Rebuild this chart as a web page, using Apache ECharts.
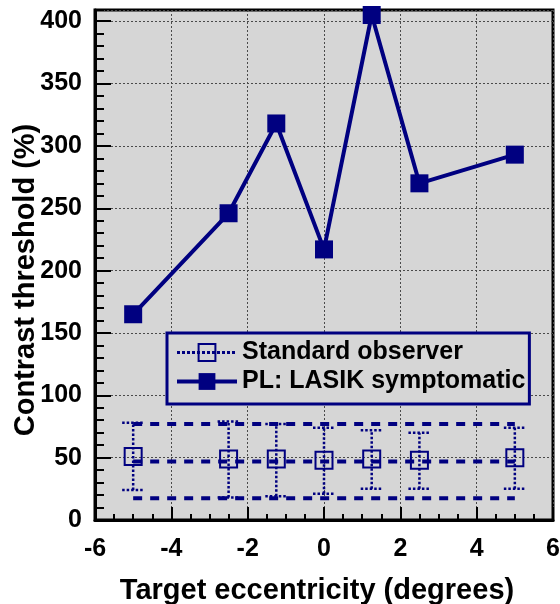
<!DOCTYPE html>
<html>
<head>
<meta charset="utf-8">
<script src="https://cdn.jsdelivr.net/npm/echarts@6/dist/echarts.min.js"></script>
<style>
  html, body { margin: 0; padding: 0; background: #ffffff; }
  #chart { width: 560px; height: 604px; }
</style>
</head>
<body>
<div id="chart"></div>
<script>
// Target eccentricities (degrees) at which thresholds were measured
const eccentricity = [-5, -2.5, -1.25, 0, 1.25, 2.5, 5];

// PL: LASIK symptomatic contrast thresholds (%)
const lasikThreshold = [165, 246, 318, 217, 405, 270, 293];

// Standard observer: mean and error-bar limits (%)
const standardMean = [51, 49, 49, 48, 49, 48, 50];
const standardUpper = [78, 79, 77, 74, 72, 70, 74];
const standardLower = [24, 18, 19, 21, 25, 25, 25];

// Standard observer reference band (dashed lines) and its extent
const bandX = [-5, 5];
const bandLevels = [77, 47, 17.5];

// Axis tick labels
const xTickValues = [-6, -4, -2, 0, 2, 4, 6];
const yTickValues = [0, 50, 100, 150, 200, 250, 300, 350, 400];
const yFrameTop = 409;
const yMinorStep = 10;

const NAVY = '#000080';
const FONT = '"Liberation Sans", Arial, Helvetica, sans-serif';
const PLOT_BG = '#d6d6d6';

const chart = echarts.init(document.getElementById('chart'), null, { renderer: 'canvas' });

const gridLine = { show: true, lineStyle: { color: '#4a4a4a', type: [2, 2], width: 1 } };
const labelStyle = { fontSize: 25, fontWeight: 'bold', color: '#000', fontFamily: FONT };
const nameStyle = { fontSize: 29, fontWeight: 'bold', color: '#000', fontFamily: FONT };

const bandSeries = bandLevels.map((level, i) => ({
  type: 'line',
  name: 'band' + i,
  data: bandX.map(x => [x, level]),
  symbol: 'none',
  silent: true,
  lineStyle: { color: NAVY, width: 4, type: [9, 8] },
  z: 2
}));

const option = {
  animation: false,
  backgroundColor: '#ffffff',
  grid: {
    left: 95, right: 7, top: 10, bottom: 84,
    containLabel: false,
    outerBoundsMode: 'none',
    show: true,
    backgroundColor: PLOT_BG,
    borderColor: '#000',
    borderWidth: 3
  },
  xAxis: {
    type: 'value',
    min: xTickValues[0],
    max: xTickValues[xTickValues.length - 1],
    interval: xTickValues[1] - xTickValues[0],
    name: 'Target eccentricity (degrees)',
    nameLocation: 'middle',
    nameGap: 56,
    nameMoveOverlap: false,
    nameTextStyle: Object.assign({ padding: [0, 14, 0, 0] }, nameStyle),
    axisLine: { show: true, onZero: false, lineStyle: { color: '#000', width: 3 } },
    axisTick: { show: true, inside: true, length: 13, lineStyle: { color: '#000', width: 2 } },
    minorTick: { show: true, splitNumber: 4, length: 6, lineStyle: { color: '#000', width: 2 } },
    axisLabel: Object.assign({ margin: 17 }, labelStyle),
    splitLine: gridLine
  },
  yAxis: [
    {
      type: 'value',
      min: yTickValues[0],
      max: yFrameTop,
      interval: yTickValues[1] - yTickValues[0],
      name: 'Contrast threshold (%)',
      nameLocation: 'middle',
      nameGap: 55,
      nameMoveOverlap: false,
      nameTextStyle: Object.assign({ padding: [0, 30, 0, 0] }, nameStyle),
      axisLine: { show: true, onZero: false, lineStyle: { color: '#000', width: 3 } },
      axisTick: { show: true, inside: true, length: 16, lineStyle: { color: '#000', width: 2 } },
      axisLabel: Object.assign({
        margin: 13,
        showMaxLabel: false,
        formatter: v => (yTickValues.indexOf(v) >= 0 ? String(v) : '')
      }, labelStyle),
      splitLine: gridLine
    },
    {
      // minor ticks every 10 units
      type: 'value',
      position: 'left',
      min: yTickValues[0],
      max: yFrameTop,
      interval: yMinorStep,
      axisLine: { show: false, onZero: false },
      axisTick: { show: true, inside: true, length: 9, lineStyle: { color: '#000', width: 2 } },
      axisLabel: { show: false },
      splitLine: { show: false }
    }
  ],
  legend: {
    orient: 'vertical',
    left: 167,
    top: 333,
    padding: [7, 4, 10, 8],
    itemGap: 4,
    itemWidth: 60,
    itemHeight: 21,
    backgroundColor: PLOT_BG,
    borderColor: NAVY,
    borderWidth: 3,
    borderRadius: 0,
    textStyle: { fontSize: 25, fontWeight: 'bold', color: '#000', fontFamily: FONT },
    data: [
      {
        name: 'Standard observer',
        lineStyle: { color: NAVY, width: 3, type: [3, 2] }
      },
      {
        name: 'PL: LASIK symptomatic',
        lineStyle: { color: NAVY, width: 4 }
      }
    ]
  },
  series: [
    ...bandSeries,
    {
      type: 'custom',
      name: 'Standard observer range',
      silent: true,
      z: 3,
      data: eccentricity.map((x, i) => [x, standardLower[i], standardUpper[i]]),
      renderItem: function (params, api) {
        const x = api.value(0);
        const lo = api.coord([x, api.value(1)]);
        const hi = api.coord([x, api.value(2)]);
        const hw = 11;
        const style = { stroke: NAVY, lineWidth: 2.5, lineDash: [2.5, 2], fill: null };
        return {
          type: 'group',
          children: [
            { type: 'line', shape: { x1: lo[0], y1: lo[1], x2: hi[0], y2: hi[1] }, style: style },
            { type: 'line', shape: { x1: hi[0] - hw, y1: hi[1], x2: hi[0] + hw, y2: hi[1] }, style: style },
            { type: 'line', shape: { x1: lo[0] - hw, y1: lo[1], x2: lo[0] + hw, y2: lo[1] }, style: style }
          ]
        };
      }
    },
    {
      type: 'line',
      name: 'Standard observer',
      data: eccentricity.map((x, i) => [x, standardMean[i]]),
      symbol: 'rect',
      symbolSize: 17,
      itemStyle: { color: 'rgba(0,0,0,0)', borderColor: NAVY, borderWidth: 2 },
      lineStyle: { color: NAVY, width: 0 },
      z: 4
    },
    {
      type: 'line',
      name: 'PL: LASIK symptomatic',
      data: eccentricity.map((x, i) => [x, lasikThreshold[i]]),
      symbol: 'rect',
      symbolSize: 18,
      clip: false,
      itemStyle: { color: NAVY },
      lineStyle: { color: NAVY, width: 4 },
      z: 5
    }
  ]
};

chart.setOption(option);
</script>
</body>
</html>
